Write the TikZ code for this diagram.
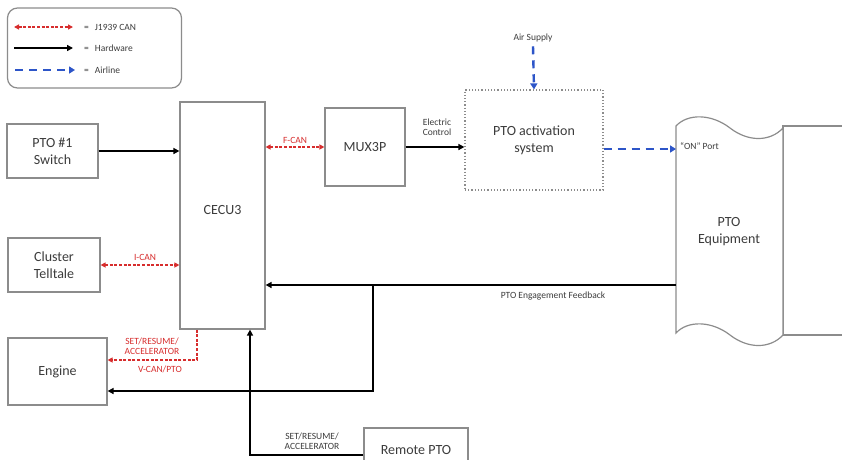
\documentclass[tikz,border=0pt]{standalone}
\usepackage{fontspec}
\setmainfont{Carlito}
\usetikzlibrary{arrows.meta}
\definecolor{boxgray}{RGB}{140,140,140}
\definecolor{canred}{RGB}{215,45,45}
\definecolor{airblue}{RGB}{45,85,200}
\definecolor{txtgray}{RGB}{60,60,60}
\tikzset{
  box/.style={draw=boxgray, line width=1.2pt, fill=white, align=center, text=txtgray, font=\fontsize{14}{17}\selectfont, inner sep=0pt},
  hw/.style={line width=2pt, -{Triangle[length=6pt,width=6pt]}},
  canboth/.style={draw=canred, line width=1.4pt, dash pattern=on 3pt off 1.6pt, {Triangle[length=5pt,width=5pt]}-{Triangle[length=5pt,width=5pt]}},
  canone/.style={draw=canred, line width=1.4pt, dash pattern=on 3pt off 1.6pt, -{Triangle[length=5pt,width=5pt]}},
  airl/.style={draw=airblue, line width=2.4pt, dash pattern=on 8pt off 6pt, -{Triangle[length=6pt,width=7pt]}},
  lbl/.style={font=\fontsize{9.5}{10.5}\selectfont, text=txtgray, align=center, inner sep=0pt},
  rlbl/.style={font=\fontsize{9.5}{10.5}\selectfont, text=canred, align=center, inner sep=0pt},
}
\begin{document}
\begin{tikzpicture}[x=1pt,y=-1pt]
\clip (0,0) rectangle (842,459);
\fill[white] (0,0) rectangle (842,459);
% legend
\node[draw=boxgray, line width=1.2pt, rounded corners=10pt, minimum width=174pt, minimum height=80pt] (leg) at (94.5,48) {};
\coordinate (l1a) at (14,27); \coordinate (l1b) at (73,27);
\coordinate (l2a) at (14,48); \coordinate (l2b) at (73,48);
\coordinate (l3a) at (15,70); \coordinate (l3b) at (75,70);
\draw[canboth] (l1a) -- (l1b);
\draw[hw] (l2a) -- (l2b);
\draw[airl] (l3a) -- (l3b);
\node[lbl, anchor=west] (t1) at (84,27) {=\hspace{6pt}J1939 CAN};
\node[lbl, anchor=west] (t2) at (84,48) {=\hspace{6pt}Hardware};
\node[lbl, anchor=west] (t3) at (84,70) {=\hspace{6pt}Airline};
% boxes
\node[box, minimum width=91pt, minimum height=54pt] (sw) at (52.5,151) {PTO \#1\\Switch};
\node[box, minimum width=92pt, minimum height=54pt] (cl) at (54,265) {Cluster\\Telltale};
\node[box, minimum width=99pt, minimum height=67pt] (eng) at (57.5,371.5) {Engine};
\node[box, minimum width=85pt, minimum height=227pt] (cecu) at (222.5,215.5) {};
\node[box, draw=none, fill=none] (cecut) at (222.5,210) {CECU3};
\node[box, minimum width=80pt, minimum height=78pt] (mux) at (365,147) {MUX3P};
\node[box, dotted, minimum width=138pt, minimum height=100pt] (pas) at (534,140) {PTO activation\\system};
\node[box, minimum width=104pt, minimum height=44pt] (rem) at (416,450) {Remote PTO};
% PTO equipment
\fill[white] (783,126) rectangle (850,335);
\draw[draw=boxgray, line width=1.2pt] (850,126) -- (783,126) -- (783,335) -- (850,335);
\draw[draw=boxgray, line width=1.2pt, fill=white]
  (676,126) .. controls (688,113) and (712,114) .. (730,128)
  .. controls (748,142) and (770,142) .. (783,128)
  -- (783,335)
  .. controls (770,349) and (748,349) .. (730,335)
  .. controls (712,321) and (688,320) .. (676,333) -- cycle;
\node[box, draw=none, fill=none] (eq) at (729,232) {PTO\\Equipment};
\coordinate (on) at (676,149);
\coordinate (fb) at (676,285);
\coordinate (jn) at (373,285);
\node[lbl, anchor=west] (onl) at (680,146) {``ON'' Port};
% connectors
\draw[hw] (sw.east) -- (cecu.west |- sw.east);
\draw[canboth] (cl.east) -- (cecu.west |- cl.east);
\node[rlbl] (ican) at (145,257) {I-CAN};
\draw[canboth] (cecu.east |- mux.west) -- (mux.west);
\node[rlbl] (fcan) at (295,140) {F-CAN};
\draw[hw] (mux.east) -- (pas.west |- mux.east);
\node[lbl] (ec) at (437,127) {Electric\\Control};
\node[lbl] (air) at (533,38) {Air Supply};
\draw[airl] (air.south) ++(0,4) -- (pas.north);
\draw[airl] (pas.east |- on) -- (on);
\draw[hw] (fb) -- (cecu.east |- fb);
\node[lbl] (fbl) at (553,296) {PTO Engagement Feedback};
\draw[hw] (jn) |- ([yshift=-19.5pt]eng.east);
\draw[canone] ([xshift=-25.5pt]cecu.south) |- ([yshift=11.5pt]eng.east);
\node[rlbl] (sr1) at (152,346) {SET/RESUME/\\ACCELERATOR};
\node[rlbl] (vcan) at (160,369) {V-CAN/PTO};
\draw[hw] ([yshift=-5pt]rem.west) -| ([xshift=27.5pt]cecu.south);
\node[lbl] (sr2) at (312,441) {SET/RESUME/\\ACCELERATOR};
\end{tikzpicture}
\end{document}
